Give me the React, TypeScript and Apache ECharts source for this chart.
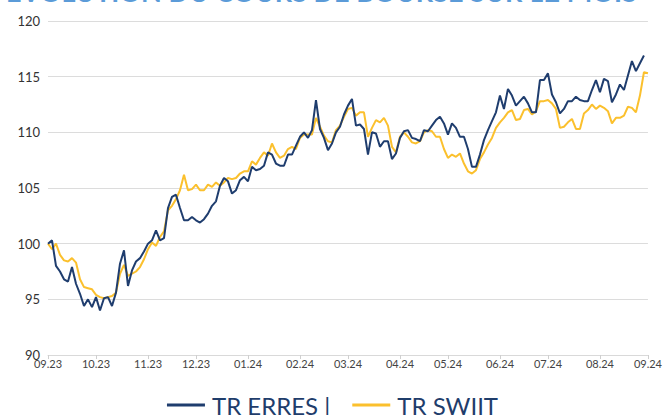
import React, { useEffect, useRef } from "react";
import * as echarts from "echarts";

const titleText = "ÉVOLUTION DU COURS DE BOURSE SUR 12 MOIS";
const seriesNames = ["TR ERRES", "TR SWIIT"];
const monthLabels = ["09.23", "10.23", "11.23", "12.23", "01.24", "02.24", "03.24", "04.24", "05.24", "06.24", "07.24", "08.24", "09.24"];
const monthTickIndex = [0, 12, 25, 37, 50, 63, 75, 88, 100, 113, 125, 138, 150];

const erres: (number | null)[] = [
  100.0, 100.3, 98.0, 97.5, 96.8, 96.6, 97.9, 96.4, 95.5, 94.4,
  95.0, 94.3, 95.2, 94.0, 95.1, 95.2, 94.4, 95.6, 98.2, 99.4,
  96.2, 97.6, 98.4, 98.7, 99.3, 100.0, 100.3, 101.2, 100.3, 100.5,
  103.2, 104.2, 104.4, 103.2, 102.1, 102.1, 102.4, 102.1, 101.9, 102.2,
  102.7, 103.4, 103.8, 105.2, 105.9, 105.6, 104.5, 104.8, 105.7, 106.0,
  105.6, 106.9, 106.6, 106.7, 107.0, 108.2, 108.0, 107.2, 107.0, 107.0,
  108.0, 108.0, 108.8, 109.6, 110.0, 109.5, 110.2, 112.9, 110.3, 109.5,
  108.4, 109.0, 110.0, 110.5, 111.6, 112.4, 113.0, 110.6, 110.7, 110.3,
  108.0, 110.0, 109.9, 108.7, 109.2, 109.2, 107.6, 108.1, 109.5, 110.1,
  110.2, 109.5, 109.4, 109.2, 110.2, 110.1, 110.6, 111.1, 111.4, 110.8,
  109.8, 110.8, 110.4, 109.6, 109.6, 108.5, 106.9, 106.9, 108.0, 109.3,
  110.2, 111.0, 111.8, 113.3, 112.1, 113.9, 113.3, 112.4, 112.8, 113.2,
  112.6, 111.8, 111.8, 114.7, 114.7, 115.3, 113.4, 112.7, 111.7, 112.1,
  112.8, 112.8, 113.2, 112.9, 112.8, 112.8, 113.8, 114.7, 113.6, 114.8,
  114.6, 112.7, 113.4, 114.3, 113.8, 115.1, 116.4, 115.5, 116.2, 116.9,
  null,
];

const swiit: number[] = [
  100.0, 99.5, 100.0, 99.0, 98.5, 98.4, 98.7, 98.3, 96.8, 96.1,
  96.0, 95.9, 95.4, 95.2, 95.1, 95.2, 95.3, 95.6, 97.3, 98.1,
  97.1, 97.3, 97.5, 97.9, 98.6, 99.5, 100.1, 99.8, 100.6, 101.1,
  103.0, 103.4, 104.0, 104.8, 106.2, 104.8, 104.9, 105.3, 104.8, 104.8,
  105.3, 105.1, 105.5, 105.2, 105.5, 105.9, 105.8, 105.9, 106.3, 106.5,
  106.5, 107.4, 107.1, 107.7, 108.2, 107.9, 109.0, 108.2, 107.7, 107.9,
  108.5, 108.7, 108.5, 109.5, 109.8, 109.8, 109.8, 111.3, 110.5, 109.7,
  109.2, 109.1, 110.2, 110.6, 111.4, 112.1, 112.2, 111.5, 111.8, 111.8,
  109.6, 110.4, 111.1, 110.9, 111.3, 110.6, 108.7, 108.2, 109.6, 110.0,
  109.6, 109.1, 109.0, 109.2, 110.0, 110.2, 110.1, 109.6, 109.6, 108.5,
  107.7, 108.0, 107.8, 108.1, 107.2, 106.5, 106.3, 106.6, 107.6, 108.2,
  108.9, 109.5, 110.4, 110.9, 111.3, 111.8, 112.0, 111.1, 111.2, 112.0,
  112.1, 111.6, 111.9, 112.8, 112.8, 112.9, 112.6, 112.1, 110.4, 110.5,
  110.9, 111.2, 110.3, 110.3, 111.7, 112.0, 112.5, 112.1, 112.4, 112.2,
  111.9, 110.8, 111.3, 111.3, 111.5, 112.3, 112.2, 111.8, 113.3, 115.4,
  115.3,
];

const categories = swiit.map((_, i) => String(i));

export default function App() {
  const ref = useRef<HTMLDivElement>(null);
  useEffect(() => {
    if (!ref.current) return;
    const chart = echarts.init(ref.current, undefined, { renderer: "svg" });
    const isMonth = (i: number) => monthTickIndex.indexOf(i) >= 0;
    chart.setOption({
      animation: false,
      backgroundColor: "#ffffff",
      textStyle: { fontFamily: "Lato, 'Open Sans', sans-serif" },
      graphic: [
        {
          type: "text",
          left: 6,
          top: -22,
          style: {
            text: titleText,
            fill: "#5b9bd8",
            font: "bold 27px Lato, 'Open Sans', sans-serif",
          },
        },
      ],
      legend: {
        bottom: -7,
        left: "center",
        itemWidth: 38,
        itemHeight: 3,
        itemGap: 22,
        icon: "rect",
        formatter: (name: string) => (name === seriesNames[0] ? name + " |" : name),
        textStyle: { color: "#1f3d6b", fontSize: 24, padding: [0, 0, 0, 2], fontFamily: "Lato, 'Open Sans', sans-serif" },
        data: seriesNames,
      },
      grid: { left: 48, right: 15, top: 21, bottom: 60, containLabel: false },
      xAxis: {
        type: "category",
        data: categories,
        boundaryGap: false,
        axisLine: { show: true, lineStyle: { color: "#d9d9d9", width: 1 } },
        axisTick: { show: true, interval: (i: number) => isMonth(i), length: 4, lineStyle: { color: "#cfcfcf" } },
        axisLabel: {
          interval: (i: number) => isMonth(i),
          formatter: (_v: string, i: number) => monthLabels[monthTickIndex.indexOf(i)] ?? "",
          color: "#444",
          fontSize: 11,
          margin: 3,
          showMaxLabel: true,
        },
        splitLine: { show: false },
      },
      yAxis: {
        type: "value",
        min: 90,
        max: 120,
        interval: 5,
        axisLine: { show: false },
        axisTick: { show: false },
        axisLabel: { color: "#333", fontSize: 13, margin: 8 },
        splitLine: { show: true, lineStyle: { color: "#dcdcdc", width: 1 } },
      },
      series: [
        {
          name: seriesNames[0],
          type: "line",
          data: erres,
          showSymbol: false,
          symbol: "none",
          lineStyle: { color: "#1f3d6e", width: 2 },
          itemStyle: { color: "#1f3d6e" },
          z: 3,
        },
        {
          name: seriesNames[1],
          type: "line",
          data: swiit,
          showSymbol: false,
          symbol: "none",
          lineStyle: { color: "#fbc02d", width: 2 },
          itemStyle: { color: "#fbc02d" },
          z: 2,
        },
      ],
    });
    return () => chart.dispose();
  }, []);
  return <div ref={ref} style={{ position: "fixed", left: 0, top: 0, width: 665, height: 415 }} />;
}
